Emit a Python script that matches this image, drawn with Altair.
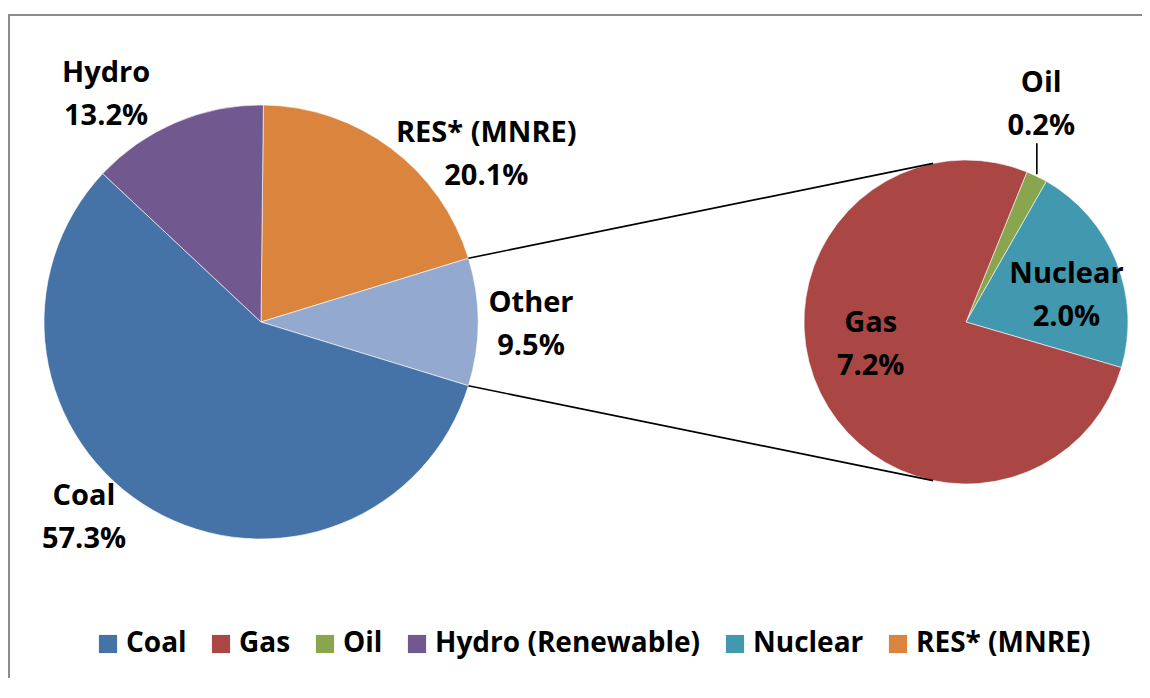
import math
import altair as alt
import pandas as pd

# ---- data ----
main_names = ["RES* (MNRE)", "Other", "Coal", "Hydro (Renewable)"]
main_labels = ["RES* (MNRE)", "Other", "Coal", "Hydro"]
main_values = [20.1, 9.5, 57.3, 13.2]

sub_names = ["Oil", "Nuclear", "Gas"]
sub_labels = ["Oil", "Nuclear", "Gas"]
sub_values = [0.2, 2.0, 7.2]

legend_order = ["Coal", "Gas", "Oil", "Hydro (Renewable)", "Nuclear", "RES* (MNRE)"]
color_domain = legend_order + ["Other"]
color_range = ["#4572A7", "#AA4643", "#89A54E", "#71588F", "#4198AF", "#DB843D", "#93A9CF"]

# ---- layout (chart pixel coordinates; page margin 8px) ----
FONT = "Open Sans"
FS = 29
LFS = 28
LINE = 43
C1 = (253, 314); R1 = 217
C2 = (958, 314); R2 = 162
SUB_START_DEG = 22.1          # rotation of the secondary pie
SUB_LINK_DEG = 11.7           # connector attachment angle on secondary pie (from vertical)
# label placement: (angle deg clockwise from 12 o'clock, radius px)
main_label_pos = {"RES* (MNRE)": (53.3, 281), "Other": (90.6, 270), "Coal": (222.1, 264), "Hydro": (325.7, 275)}
sub_label_pos = {"Oil": (19.1, 230), "Nuclear": (75.0, 104), "Gas": (256.5, 98)}

def polar(c, ang_deg, r):
    a = math.radians(ang_deg)
    return c[0] + r * math.sin(a), c[1] - r * math.cos(a)

total1 = sum(main_values)
other_i = main_names.index("Other")
before = sum(main_values[:other_i])
start1 = 90.0 - (before + main_values[other_i] / 2) / total1 * 360.0
other_a0 = start1 + before / total1 * 360.0
other_a1 = other_a0 + main_values[other_i] / total1 * 360.0

main_df = pd.DataFrame({"name": main_names, "value": main_values, "idx": range(len(main_names))})
sub_df = pd.DataFrame({"name": sub_names, "value": sub_values, "idx": range(len(sub_names))})

legend = alt.Legend(
    values=legend_order, orient="none", legendX=86, legendY=622, direction="horizontal",
    title=None, symbolType="square", symbolSize=330, symbolStrokeWidth=0,
    labelFont=FONT, labelFontSize=LFS, labelFontWeight="bold", labelColor="black",
    labelLimit=500, columnPadding=20, labelOffset=4, symbolOffset=0, columns=6,
)
color = alt.Color("name:N", scale=alt.Scale(domain=color_domain, range=color_range), legend=legend)

pie1 = alt.Chart(main_df).mark_arc(radius=R1, x=C1[0], y=C1[1], stroke="white", strokeWidth=0.6).encode(
    theta=alt.Theta("value:Q", stack=True,
                    scale=alt.Scale(range=[math.radians(start1), math.radians(start1) + 2 * math.pi])),
    color=color,
    order=alt.Order("idx:Q"),
)
s2 = math.radians(SUB_START_DEG)
pie2 = alt.Chart(sub_df).mark_arc(radius=R2, x=C2[0], y=C2[1], stroke="white", strokeWidth=0.6).encode(
    theta=alt.Theta("value:Q", stack=True, scale=alt.Scale(range=[s2, s2 + 2 * math.pi])),
    color=color,
    order=alt.Order("idx:Q"),
)

# connector lines
p_a = polar(C1, other_a0, R1)
p_b = polar(C1, other_a1, R1)
q_a = polar(C2, 360 - SUB_LINK_DEG, R2)
q_b = polar(C2, 180 + SUB_LINK_DEG, R2)
# oil leader line
total2 = sum(sub_values)
oil_mid = SUB_START_DEG + sub_values[0] / total2 * 360.0 / 2
o_pt = polar(C2, oil_mid, R2)
lines_df = pd.DataFrame({
    "x": [p_a[0], p_b[0], o_pt[0]], "y": [p_a[1], p_b[1], o_pt[1] - 2],
    "x2": [q_a[0], q_b[0], o_pt[0]], "y2": [q_a[1], q_b[1], o_pt[1] - 33],
})
rules = alt.Chart(lines_df).mark_rule(color="black", strokeWidth=1.6).encode(
    x=alt.X("x:Q", scale=None, axis=None), y=alt.Y("y:Q", scale=None, axis=None),
    x2="x2:Q", y2="y2:Q",
)

# labels
rows = []
for lab, v in zip(main_labels, main_values):
    a, r = main_label_pos[lab]
    px, py = polar(C1, a, r)
    rows.append({"t": lab, "x": px, "y": py - LINE / 2})
    rows.append({"t": f"{v:.1f}%", "x": px, "y": py + LINE / 2})
for lab, v in zip(sub_labels, sub_values):
    a, r = sub_label_pos[lab]
    px, py = polar(C2, a, r)
    rows.append({"t": lab, "x": px, "y": py - LINE / 2})
    rows.append({"t": f"{v:.1f}%", "x": px, "y": py + LINE / 2})
lab_df = pd.DataFrame(rows)
labels = alt.Chart(lab_df).mark_text(
    font=FONT, fontSize=FS, fontWeight="bold", color="black", align="center", baseline="middle"
).encode(
    x=alt.X("x:Q", scale=None, axis=None), y=alt.Y("y:Q", scale=None, axis=None), text="t:N"
)

border = alt.Chart(pd.DataFrame({"a": [0]})).mark_rect(filled=False, stroke="#8c8c8c", strokeWidth=2).encode(
    x=alt.value(1), x2=alt.value(1200), y=alt.value(7), y2=alt.value(760)
)

chart = alt.layer(border, pie1, pie2, rules, labels).resolve_scale(theta="independent").properties(
    width=1134, height=670, padding=0, background="white",
    autosize=alt.AutoSizeParams(type="none")
).configure_view(stroke=None)

chart.save("out.html", embed_options={"renderer": "svg", "actions": False})
